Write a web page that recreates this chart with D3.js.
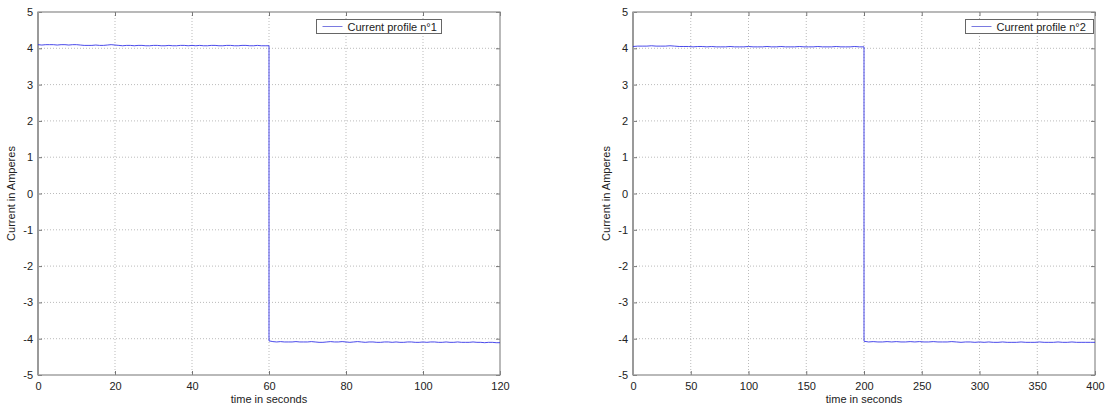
<!DOCTYPE html>
<html>
<head>
<meta charset="utf-8">
<script src="https://cdn.jsdelivr.net/npm/d3@7"></script>
<style>
  html, body { margin: 0; padding: 0; background: #fff; }
  svg { display: block; }
  text { font-family: "Liberation Sans", Arial, sans-serif; fill: #222; }
</style>
</head>
<body>
<svg id="chart" width="1107" height="407"></svg>
<script>
// Axis ticks
const yTicks = [-5, -4, -3, -2, -1, 0, 1, 2, 3, 4, 5];
const xTicks1 = [0, 20, 40, 60, 80, 100, 120];
const xTicks2 = [0, 50, 100, 150, 200, 250, 300, 350, 400];

// Profile n°1: +I phase from 0 to 60 s, then -I phase from 60 to 120 s (samples in amperes)
const profile1Span = [0, 60, 120];
const profile1High = [4.10,4.09,4.10,4.10,4.10,4.09,4.10,4.10,4.09,4.10,4.10,4.09,4.08,4.08,4.08,4.09,4.08,4.08,4.09,4.10,
  4.09,4.08,4.07,4.08,4.08,4.07,4.08,4.08,4.07,4.07,4.08,4.08,4.07,4.07,4.08,4.07,4.07,4.08,4.08,4.07,
  4.08,4.07,4.08,4.07,4.07,4.08,4.08,4.07,4.07,4.08,4.08,4.07,4.07,4.08,4.08,4.07,4.07,4.08,4.07,4.07,4.07];
const profile1Low = [-4.06,-4.08,-4.09,-4.08,-4.09,-4.09,-4.09,-4.08,-4.09,-4.09,-4.09,-4.08,-4.09,-4.10,-4.10,-4.09,-4.08,-4.09,-4.09,-4.08,
  -4.09,-4.10,-4.09,-4.08,-4.09,-4.10,-4.09,-4.09,-4.10,-4.10,-4.09,-4.09,-4.10,-4.09,-4.10,-4.10,-4.09,-4.09,-4.10,-4.10,
  -4.09,-4.10,-4.09,-4.09,-4.10,-4.10,-4.09,-4.10,-4.10,-4.09,-4.10,-4.10,-4.10,-4.09,-4.10,-4.10,-4.11,-4.10,-4.10,-4.11,-4.11];

// Profile n°2: +I phase from 0 to 200 s, then -I phase from 200 to 400 s
const profile2Span = [0, 200, 400];
const profile2High = [4.05,4.06,4.06,4.06,4.07,4.06,4.06,4.06,4.07,4.06,4.05,4.05,4.05,4.04,4.05,4.05,4.04,4.05,4.04,4.04,
  4.04,4.05,4.04,4.04,4.04,4.05,4.04,4.04,4.04,4.05,4.04,4.04,4.05,4.04,4.04,4.04,4.05,4.04,4.04,4.04,
  4.05,4.04,4.04,4.04,4.05,4.04,4.04,4.04,4.05,4.04,4.04];
const profile2Low = [-4.07,-4.09,-4.08,-4.09,-4.09,-4.08,-4.09,-4.08,-4.09,-4.09,-4.08,-4.09,-4.08,-4.09,-4.09,-4.08,-4.09,-4.09,-4.09,-4.08,
  -4.09,-4.10,-4.09,-4.09,-4.10,-4.09,-4.10,-4.09,-4.10,-4.10,-4.09,-4.10,-4.10,-4.10,-4.09,-4.10,-4.10,-4.10,-4.09,-4.10,
  -4.10,-4.10,-4.09,-4.10,-4.10,-4.09,-4.10,-4.10,-4.10,-4.10,-4.10];

const legend1 = "Current profile n°1";
const legend2 = "Current profile n°2";
const xTitle = "time in seconds";
const yTitle = "Current in Amperes";

// Turn the two phases into (time, current) points, the step sharing the switch instant
function buildSeries(span, high, low) {
  const pts = [];
  high.forEach((v, i) => pts.push([span[0] + i * (span[1] - span[0]) / (high.length - 1), v]));
  low.forEach((v, i) => pts.push([span[1] + i * (span[2] - span[1]) / (low.length - 1), v]));
  return pts;
}

// plain hyphen for negative labels
const fmt = d => String(d);

const svg = d3.select("#chart");

function drawPanel(cfg) {
  const { left, right, top, bottom, xDomain, xTicks, data, legend, legendBox } = cfg;
  const x = d3.scaleLinear().domain(xDomain).range([left, right]);
  const y = d3.scaleLinear().domain([-5, 5]).range([bottom, top]);
  const g = svg.append("g");

  // dotted grid
  g.append("g").selectAll("line").data(xTicks.slice(1, -1)).join("line")
    .attr("x1", d => x(d)).attr("x2", d => x(d)).attr("y1", top).attr("y2", bottom)
    .attr("stroke", "#aaa").attr("stroke-width", 0.8).attr("stroke-dasharray", "1,2");
  g.append("g").selectAll("line").data(yTicks.slice(1, -1)).join("line")
    .attr("x1", left).attr("x2", right).attr("y1", d => y(d)).attr("y2", d => y(d))
    .attr("stroke", "#aaa").attr("stroke-width", 0.8).attr("stroke-dasharray", "1,2");

  // axes: labels outside, ticks pointing inward
  const xAxis = d3.axisBottom(x).tickValues(xTicks).tickSize(-4).tickPadding(7).tickFormat(fmt);
  const yAxis = d3.axisLeft(y).tickValues(yTicks).tickSize(-4).tickPadding(5).tickFormat(fmt);
  const xa = g.append("g").attr("transform", `translate(0,${bottom})`).call(xAxis);
  const ya = g.append("g").attr("transform", `translate(${left},0)`).call(yAxis);
  const xt = g.append("g").attr("transform", `translate(0,${top})`)
    .call(d3.axisTop(x).tickValues(xTicks).tickSize(-4).tickFormat(""));
  const yr = g.append("g").attr("transform", `translate(${right},0)`)
    .call(d3.axisRight(y).tickValues(yTicks).tickSize(-4).tickFormat(""));
  [xa, ya, xt, yr].forEach(a => {
    a.select(".domain").remove();
    a.selectAll(".tick line").attr("stroke", "#555").attr("stroke-width", 0.8);
    a.selectAll("text").style("font-family", "'Liberation Sans', Arial, sans-serif")
      .style("font-size", "11px").attr("fill", "#222");
  });

  // axes box
  g.append("rect").attr("x", left).attr("y", top).attr("width", right - left).attr("height", bottom - top)
    .attr("fill", "none").attr("stroke", "#8a8a8a").attr("stroke-width", 1.2);
  g.append("line").attr("x1", left).attr("x2", left).attr("y1", top).attr("y2", bottom)
    .attr("stroke", "#9a9a9a").attr("stroke-width", 2);

  // current trace
  const line = d3.line().x(d => x(d[0])).y(d => y(d[1]));
  g.append("path").datum(data).attr("d", line)
    .attr("fill", "none").attr("stroke", "#2a2ae6").attr("stroke-width", 1).attr("stroke-opacity", 0.85);

  // axis titles
  g.append("text").attr("x", (left + right) / 2).attr("y", bottom + 28)
    .attr("text-anchor", "middle").style("font-size", "11px").text(xTitle);
  g.append("text").attr("transform", `translate(${left - 23},${(top + bottom) / 2}) rotate(-90)`)
    .attr("text-anchor", "middle").style("font-size", "11px").text(yTitle);

  // legend
  const lg = g.append("g");
  lg.append("rect").attr("x", legendBox[0]).attr("y", legendBox[1]).attr("width", legendBox[2]).attr("height", legendBox[3])
    .attr("fill", "#fff").attr("stroke", "#666").attr("stroke-width", 1);
  const ly = legendBox[1] + legendBox[3] / 2;
  lg.append("line").attr("x1", legendBox[0] + 6).attr("x2", legendBox[0] + 26).attr("y1", ly).attr("y2", ly)
    .attr("stroke", "#7a7ae0").attr("stroke-width", 1);
  lg.append("text").attr("x", legendBox[0] + 31).attr("y", ly + 4).style("font-size", "11px").text(legend);
}

drawPanel({
  left: 38, right: 500, top: 12, bottom: 375,
  xDomain: [0, 120], xTicks: xTicks1,
  data: buildSeries(profile1Span, profile1High, profile1Low),
  legend: legend1, legendBox: [316.5, 19.5, 125, 14]
});
drawPanel({
  left: 633, right: 1095, top: 12, bottom: 375,
  xDomain: [0, 400], xTicks: xTicks2,
  data: buildSeries(profile2Span, profile2High, profile2Low),
  legend: legend2, legendBox: [965.5, 19.5, 128, 14]
});
</script>
</body>
</html>
